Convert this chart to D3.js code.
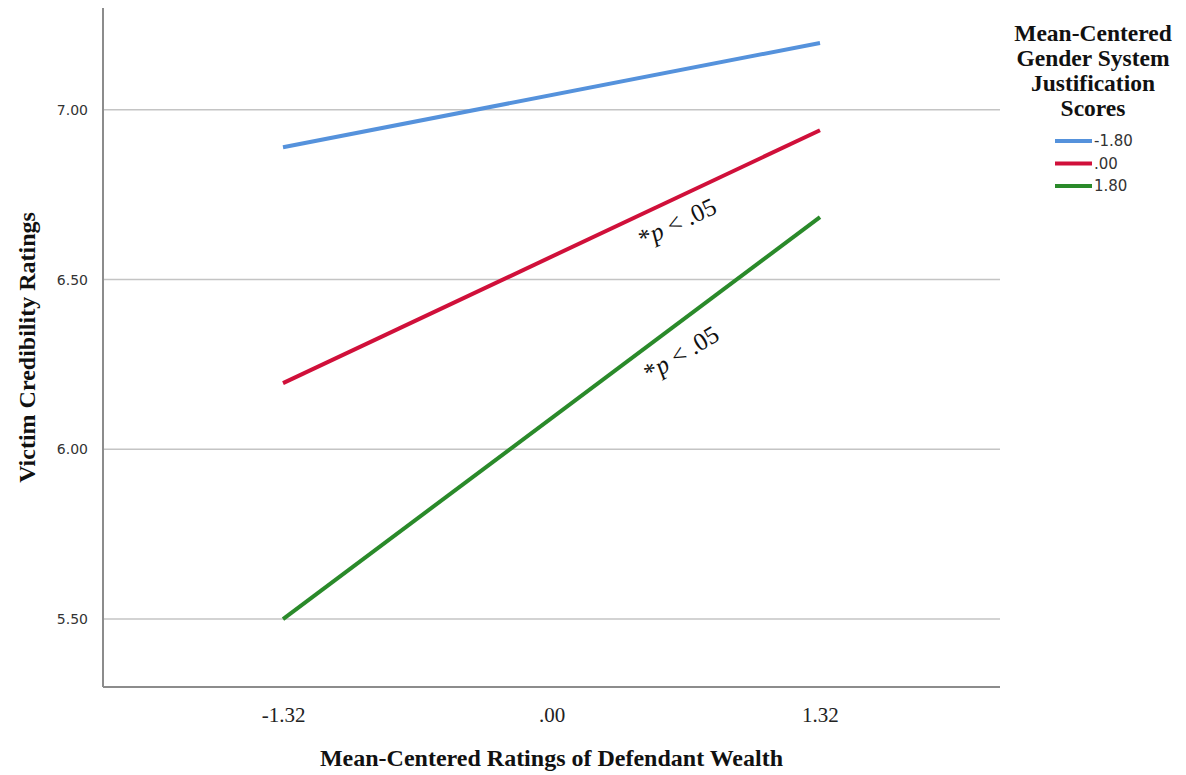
<!DOCTYPE html>
<html>
<head>
<meta charset="utf-8">
<script src="https://cdn.jsdelivr.net/npm/d3@7"></script>
<style>
  body { margin: 0; background: #fff; }
  .axisTitle { font-family: "Liberation Serif", "Times New Roman", serif; font-weight: bold; fill: #111; }
</style>
</head>
<body>
<div id="chart"></div>
<script>
// data
let xTicks = [-1.32, 0, 1.32];
let xTickLabels = ["-1.32", ".00", "1.32"];
let yTicks = [5.5, 6.0, 6.5, 7.0];
let yTickLabels = ["5.50", "6.00", "6.50", "7.00"];
let seriesNames = ["-1.80", ".00", "1.80"];
let lowSJ = [6.89, 7.197];   // -1.80
let midSJ = [6.195, 6.94];   // .00
let highSJ = [5.50, 6.684];  // 1.80
let seriesColors = ["#5592dc", "#d0103a", "#2a8a2a"];
let legendTitle = ["Mean-Centered", "Gender System", "Justification", "Scores"];

let svgWidth = 1186;
let svgHeight = 775;
let margin = { top: 8, right: 186, bottom: 88, left: 103 };
let width = svgWidth - margin.left - margin.right;
let height = svgHeight - margin.top - margin.bottom;

let svg = d3.select("#chart")
  .append("svg")
  .attr("width", svgWidth)
  .attr("height", svgHeight);

let chartGroup = svg.append("g")
  .attr("transform", `translate(${margin.left}, ${margin.top})`);

let x = d3.scaleLinear().domain([-2.205, 2.205]).range([0, width]);
let y = d3.scaleLinear().domain([5.3, 7.3]).range([height, 0]);

// gridlines
chartGroup.selectAll(".grid")
  .data(yTicks)
  .enter()
  .append("line")
  .attr("x1", 0)
  .attr("x2", width)
  .attr("y1", d => y(d))
  .attr("y2", d => y(d))
  .attr("stroke", "#c4c4c4")
  .attr("stroke-width", 1.5);

// axes
let leftAxis = d3.axisLeft(y).tickValues(yTicks)
  .tickFormat((d, i) => yTickLabels[i]).tickSize(0).tickPadding(15);
let bottomAxis = d3.axisBottom(x).tickValues(xTicks)
  .tickFormat((d, i) => xTickLabels[i]).tickSize(0).tickPadding(20);

let gy = chartGroup.append("g").call(leftAxis);
gy.select(".domain").remove();
gy.selectAll("text")
  .attr("font-family", "DejaVu Sans, sans-serif")
  .attr("font-size", 14)
  .attr("fill", "#333");

let gx = chartGroup.append("g")
  .attr("transform", `translate(0, ${height})`)
  .call(bottomAxis);
gx.select(".domain").remove();
gx.selectAll("text")
  .attr("font-family", "Liberation Serif, serif")
  .attr("font-size", 21)
  .attr("fill", "#222");

chartGroup.append("line")
  .attr("x1", 0).attr("x2", 0).attr("y1", 0).attr("y2", height)
  .attr("stroke", "#8c8c8c").attr("stroke-width", 2);
chartGroup.append("line")
  .attr("x1", 0).attr("x2", width).attr("y1", height).attr("y2", height)
  .attr("stroke", "#8c8c8c").attr("stroke-width", 2);

// lines
let series = [lowSJ, midSJ, highSJ];
let line = d3.line()
  .x((d, i) => x(xTicks[i * 2]))
  .y(d => y(d));

chartGroup.selectAll(".simple")
  .data(series)
  .enter()
  .append("path")
  .attr("d", d => line(d))
  .attr("fill", "none")
  .attr("stroke", (d, i) => seriesColors[i])
  .attr("stroke-width", 4);

// significance labels
let notes = [
  { cx: 677, cy: 222, angle: -25 },
  { cx: 681, cy: 353, angle: -31 }
];
notes.forEach(n => {
  let t = svg.append("text")
    .attr("transform", `translate(${n.cx}, ${n.cy}) rotate(${n.angle})`)
    .attr("text-anchor", "middle")
    .attr("dy", "0.35em")
    .attr("font-family", "Liberation Serif, serif")
    .attr("font-size", 25)
    .attr("fill", "#111");
  t.append("tspan").text("*");
  t.append("tspan").attr("font-style", "italic").text("p");
  t.append("tspan").text(" < .05");
});

// axis titles
svg.append("text")
  .attr("class", "axisTitle")
  .attr("transform", `translate(35, ${margin.top + height / 2}) rotate(-90)`)
  .attr("text-anchor", "middle")
  .attr("font-size", 24)
  .text("Victim Credibility Ratings");

svg.append("text")
  .attr("class", "axisTitle")
  .attr("x", margin.left + width / 2)
  .attr("y", 766)
  .attr("text-anchor", "middle")
  .attr("font-size", 24)
  .text("Mean-Centered Ratings of Defendant Wealth");

// legend
let legend = svg.append("g");
legend.selectAll(".ltitle")
  .data(legendTitle)
  .enter()
  .append("text")
  .attr("class", "axisTitle")
  .attr("x", 1093)
  .attr("y", (d, i) => 41 + i * 25)
  .attr("text-anchor", "middle")
  .attr("font-size", 23.5)
  .text(d => d);

let items = legend.selectAll(".litem")
  .data(seriesNames)
  .enter()
  .append("g")
  .attr("transform", (d, i) => `translate(1055, ${141 + i * 22.5})`);
items.append("line")
  .attr("x1", 0).attr("x2", 37)
  .attr("stroke", (d, i) => seriesColors[i])
  .attr("stroke-width", 4);
items.append("text")
  .attr("x", 39)
  .attr("dy", "0.35em")
  .attr("font-family", "DejaVu Sans, sans-serif")
  .attr("font-size", 15)
  .attr("fill", "#333")
  .text(d => d);
</script>
</body>
</html>
